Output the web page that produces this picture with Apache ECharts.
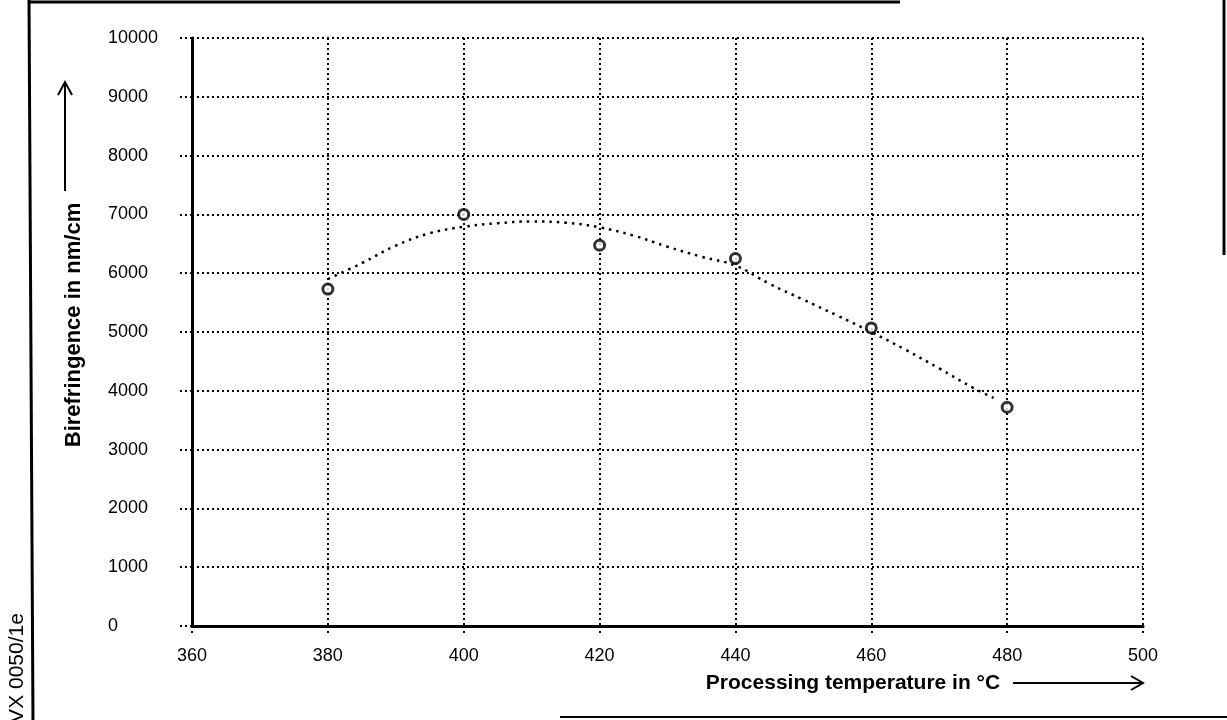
<!DOCTYPE html>
<html>
<head>
<meta charset="utf-8">
<script src="https://cdn.jsdelivr.net/npm/echarts@6/dist/echarts.min.js"></script>
<style>html,body{margin:0;padding:0;background:#fff}#c{width:1227px;height:720px}</style>
</head>
<body>
<div id="c"></div>
<script>
// Measured points
const temps = [380, 400, 420, 440, 460, 480];
const birefringence = [5730, 7000, 6475, 6250, 5070, 3720];
// Dotted trend curve
const trendTemps = [380, 385, 390, 395, 400, 405, 410, 415, 420, 425, 430, 435, 440, 445, 450, 455, 460, 465, 470, 475, 478];
const trendValues = [5900, 6170, 6470, 6680, 6790, 6850, 6880, 6860, 6780, 6640, 6450, 6280, 6130, 5820, 5550, 5280, 5000, 4700, 4380, 4050, 3880];
// Axis settings
const xMin = 360, xMax = 500, xStep = 20;
const yMin = 0, yMax = 10000, yStep = 1000;
const xTitle = 'Processing temperature in °C';
const yTitle = 'Birefringence in nm/cm';
const docCode = 'VX 0050/1e';

const FONT = '"Liberation Sans", Arial, sans-serif';
const dotted = { color: '#000', width: 2, type: [2, 3] };

const chart = echarts.init(document.getElementById('c'), null, { renderer: 'canvas' });
chart.setOption({
  backgroundColor: '#fff',
  animation: false,
  grid: { left: 192, right: 84, top: 38, bottom: 94, containLabel: false },
  xAxis: {
    type: 'value', min: xMin, max: xMax, interval: xStep,
    axisLine: { show: true, onZero: false, lineStyle: { color: '#000', width: 3 } },
    axisTick: { show: true, length: 9, lineStyle: dotted },
    axisLabel: { color: '#000', fontFamily: FONT, fontSize: 18, margin: 21, formatter: v => String(v) },
    splitLine: { show: true, lineStyle: dotted }
  },
  yAxis: {
    type: 'value', min: yMin, max: yMax, interval: yStep,
    axisLine: { show: true, onZero: false, lineStyle: { color: '#000', width: 3 } },
    axisTick: { show: true, length: 14, lineStyle: dotted },
    axisLabel: {
      color: '#000', fontFamily: FONT, fontSize: 18, margin: 84, align: 'left',
      formatter: v => String(v)
    },
    splitLine: { show: true, lineStyle: dotted }
  },
  series: [
    {
      type: 'line', name: 'trend', smooth: 0.4,
      data: trendTemps.map((t, i) => [t, trendValues[i]]),
      showSymbol: false, symbol: 'none',
      lineStyle: { color: '#000', width: 2.5, type: [2.5, 5] },
      z: 3
    },
    {
      type: 'scatter', name: 'measured',
      data: temps.map((t, i) => [t, birefringence[i]]),
      symbol: 'circle', symbolSize: 10,
      itemStyle: { color: '#fff', borderColor: '#000', borderWidth: 3 },
      z: 4
    }
  ],
  graphic: [
    { type: 'line', shape: { x1: 29, y1: 0, x2: 33, y2: 720 }, style: { stroke: '#000', lineWidth: 3 } },
    { type: 'line', shape: { x1: 28, y1: 2, x2: 900, y2: 2 }, style: { stroke: '#000', lineWidth: 3 } },
    { type: 'line', shape: { x1: 1224, y1: 0, x2: 1224, y2: 255 }, style: { stroke: '#000', lineWidth: 3 } },
    { type: 'line', shape: { x1: 560, y1: 717, x2: 1227, y2: 717 }, style: { stroke: '#000', lineWidth: 2 } },
    { type: 'text', x: 74, y: 325, rotation: Math.PI / 2,
      style: { text: yTitle, font: 'bold 22px ' + FONT, fill: '#000', align: 'center', verticalAlign: 'middle' } },
    { type: 'line', shape: { x1: 65, y1: 191, x2: 65, y2: 84 }, style: { stroke: '#000', lineWidth: 2 } },
    { type: 'polyline', shape: { points: [[58, 95], [65, 82], [72, 95]] }, style: { stroke: '#000', lineWidth: 2, fill: null } },
    { type: 'text', x: 853, y: 683,
      style: { text: xTitle, font: 'bold 21px ' + FONT, fill: '#000', align: 'center', verticalAlign: 'middle' } },
    { type: 'line', shape: { x1: 1013, y1: 683, x2: 1142, y2: 683 }, style: { stroke: '#000', lineWidth: 2 } },
    { type: 'polyline', shape: { points: [[1131, 676], [1143, 683], [1131, 690]] }, style: { stroke: '#000', lineWidth: 2, fill: null } },
    { type: 'text', x: 17, y: 668, rotation: Math.PI / 2,
      style: { text: docCode, font: '21px ' + FONT, fill: '#000', align: 'center', verticalAlign: 'middle' } }
  ]
});
</script>
</body>
</html>
